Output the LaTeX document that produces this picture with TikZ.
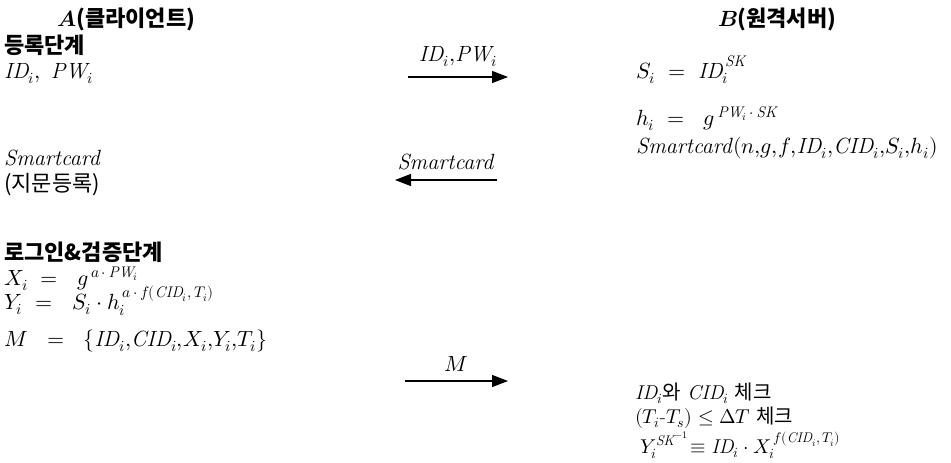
\documentclass[tikz,border=0pt]{standalone}
\usepackage{fontspec}
\usepackage{unicode-math}
\setmathfont{Latin Modern Math}
\newfontfamily\kr{Noto Sans CJK KR}
\usetikzlibrary{arrows.meta}
\tikzset{
  fnt/.style={font=\fontsize{22}{24}\selectfont},
  txt/.style={fnt, anchor=base west, inner sep=0pt},
  sml/.style={anchor=base west, inner sep=0pt, font=\fontsize{20}{22}\selectfont},
  hdr/.style={txt, font=\fontsize{22}{24}\selectfont\bfseries},
  msg/.style={line width=1.1pt, -{Triangle[length=16pt,width=12pt]}},
}
\newcommand{\kt}[1]{{\kr #1}}
\newcommand{\kb}[1]{{\kr\bfseries #1}}
\newcommand{\cma}{{,}}
\begin{document}
\begin{tikzpicture}[x=1pt,y=-1pt]
\path[use as bounding box] (0,0) rectangle (951,463);
% Client column
\node[hdr] (A) at (57,27) {$\symbfit{A}$\kb{(클라이언트)}};
\node[hdr] (reg) at (4,53) {\kb{등록단계}};
\node[txt] (idpw) at (4,78) {$\mathit{ID}_i,\ \mathit{PW}_i$};
\node[txt] (sc) at (4,165) {\textit{Smartcard}};
\node[txt] (fp) at (4,191) {\kt{(지문등록)}};
\node[hdr] (login) at (4,260) {\kb{로그인\&검증단계}};
\node[txt] (X) at (4,285) {$X_i\ =\ \ g^{\,a\,\cdot\,\mathit{PW}_i}$};
\node[txt] (Y) at (4,309) {$Y_i\ =\ \ S_i\cdot h_i^{\,a\,\cdot\,f(\mathit{CID}_i\cma\,T_i)}$};
\node[txt] (M) at (4,346) {$M\ \ =\ \ \{\mathit{ID}_i\cma\mathit{CID}_i\cma X_i\cma Y_i\cma T_i\}$};
% Server column
\node[hdr] (B) at (718,27) {$\symbfit{B}$\kb{(원격서버)}};
\node[txt] (S) at (636,78) {$S_i\ =\ \mathit{ID}_i^{\,\mathit{SK}}$};
\node[txt] (h) at (636,125) {$h_i\ =\ \ g^{\,\mathit{PW}_i\,\cdot\,\mathit{SK}}$};
\node[txt] (card) at (636,153) {\textit{Smartcard}$(n\cma g\cma f\cma\mathit{ID}_i\cma\mathit{CID}_i\cma S_i\cma h_i)$};
\node[sml] (chk1) at (635,399) {$\mathit{ID}_i$\kt{와} $\mathit{CID}_i$ \kt{체크}};
\node[sml] (chk2) at (635,423) {$(T_i\text{-}T_s)\leq\Delta T$ \kt{체크}};
\node[sml] (chk3) at (640,453) {$Y_i^{\mathit{SK}^{-1}}\!\equiv \mathit{ID}_i\cdot X_i^{\,f(\mathit{CID}_i\cma\,T_i)}$};
% Messages
\coordinate (a1s) at (408,77);
\coordinate (a1e) at (508,77);
\draw[msg] (a1s) -- (a1e) node[midway, above=6pt, fnt] (l1) {$\mathit{ID}_i\cma\mathit{PW}_i$};
\coordinate (a2s) at (497,180);
\coordinate (a2e) at (395,180);
\draw[msg] (a2s) -- (a2e) node[midway, above=6pt, fnt] (l2) {\textit{Smartcard}};
\coordinate (a3s) at (405,381);
\coordinate (a3e) at (508,381);
\draw[msg] (a3s) -- (a3e) node[midway, above=6pt, fnt] (l3) {$M$};
\end{tikzpicture}
\end{document}
